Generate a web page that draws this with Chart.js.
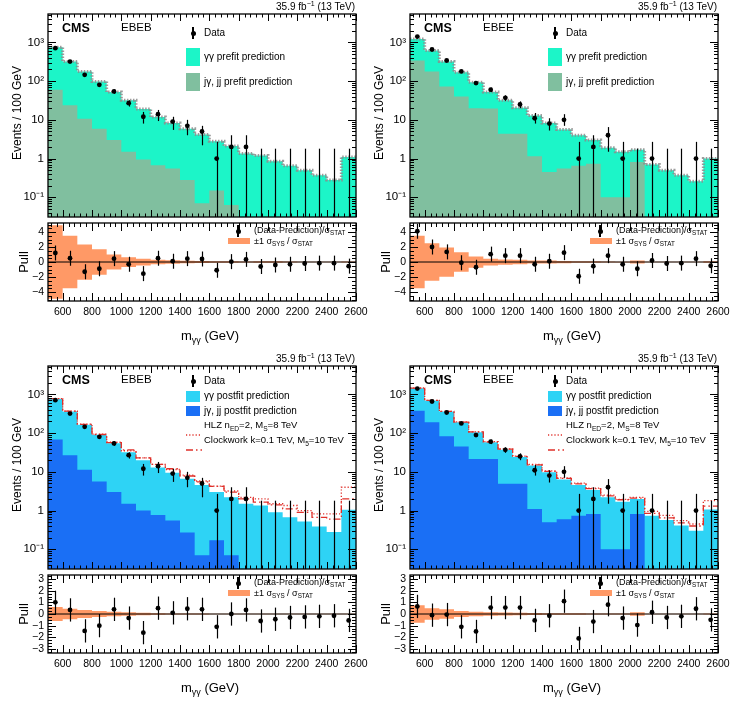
<!DOCTYPE html>
<html>
<head>
<meta charset="utf-8">
<title>Diphoton mass spectra, EBEB / EBEE</title>
<script src="https://cdn.jsdelivr.net/npm/chart.js@4.4.1/dist/chart.umd.min.js"></script>
<style>
  body { margin: 0; background: #fff; font-family: 'Liberation Sans', Arial, sans-serif; }
  #page { position: relative; width: 731px; height: 705px; overflow: hidden; }
  .panel { position: absolute; width: 370px; height: 352px; }
  .panel canvas { position: absolute; left: 0; }
  .t { position: absolute; white-space: nowrap; line-height: 1; color: #000; }
  .t sub, .t sup { font-size: 70%; line-height: 0; }
  .box { position: absolute; }
</style>
</head>
<body>
<div id="page"></div>
<script>
const FONT = "'Liberation Sans', Arial, sans-serif";

// binning (GeV)
const binEdges = [500, 600, 700, 800, 900, 1000, 1100, 1200, 1300, 1400, 1500, 1600, 1700, 1800, 1900, 2000, 2100, 2200, 2300, 2400, 2500, 2600];
const xLabels = [600, 800, 1000, 1200, 1400, 1600, 1800, 2000, 2200, 2400, 2600];
const yMainLabels = [0.1, 1, 10, 100, 1000];
const decadeLabel = { 0.1: '10\u207B\u00B9', 1: '1', 10: '10', 100: '10\u00B2', 1000: '10\u00B3' };

// observed events / 100 GeV and error bar ends
const dataEBEB   = [710, 320, 145, 80, 54, 27, 12, 14, 9, 7, 5, 1, 2, 2, 0, 0, 0, 0, 0, 0, 0];
const dataEBEBLo = [683, 302, 133, 71, 47, 22, 8, 9.3, 5.5, 4, 2.2, 0, 0, 0, 0, 0, 0, 0, 0, 0, 0];
const dataEBEBHi = [737, 338, 157, 89, 61, 32, 16, 18, 12, 10, 7, 2.7, 4, 4, 1.8, 1.8, 1.8, 1.8, 1.8, 1.8, 1.8];
const dataEBEE   = [1410, 655, 340, 178, 89, 60, 37, 25, 11, 8, 10, 1, 2, 4, 1, 0, 1, 0, 0, 1, 0];
const dataEBEELo = [1370, 630, 322, 165, 80, 52, 31, 20, 8, 5.3, 7, 0, 0, 1.5, 0, 0, 0, 0, 0, 0, 0];
const dataEBEEHi = [1450, 680, 358, 192, 99, 68, 43, 30, 15, 11, 14, 2.7, 4, 6.5, 2.7, 1.8, 2.7, 1.8, 1.8, 2.7, 1.8];

// prefit predictions (stack total and j-gamma/jj part)
const preTotEBEB = [750, 320, 178, 98, 52, 32, 19, 11.8, 8.3, 5.9, 4.2, 2.8, 2.1, 1.35, 1.2, 0.85, 0.65, 0.5, 0.37, 0.28, 1.1];
const preJetEBEB = [60, 23.7, 10.7, 5.9, 3.0, 1.5, 0.94, 0.67, 0.55, 0.28, 0.07, 0.15, 0.063, 0, 0, 0, 0, 0, 0, 0, 0];
const preTotEBEE = [1230, 617, 322, 170, 94, 52, 32, 20.6, 13, 8.3, 5.6, 4, 3, 1.9, 1.5, 1.7, 0.7, 0.5, 0.37, 0.26, 1.0];
const preJetEBEE = [340, 178, 73, 40, 20, 19.5, 4.4, 4.4, 1.15, 0.45, 0.55, 0.65, 0.74, 0.1, 0.1, 0.82, 0, 0, 0, 0, 0];

// postfit predictions and signal hypotheses
const postTotEBEB = [760, 360, 165, 90, 55, 32, 20, 13, 9.4, 6.6, 4.6, 3, 2.2, 1.5, 1.35, 0.9, 0.67, 0.52, 0.39, 0.28, 1.05];
const postJetEBEB = [68, 27, 11.4, 5.6, 3, 1.5, 1.0, 0.77, 0.55, 0.27, 0.07, 0.17, 0.07, 0, 0, 0, 0, 0, 0, 0, 0];
const hlzEBEB = [780, 370, 170, 94, 58, 35, 23, 15.5, 11.5, 8.2, 5.8, 4.3, 3.2, 2.2, 2.0, 1.5, 1.35, 1.0, 0.82, 0.82, 4.0];
const cwEBEB  = [775, 368, 168, 92, 57, 37, 23, 15.5, 12, 7.8, 5.5, 4.2, 3.0, 2.0, 1.65, 1.4, 1.1, 0.9, 0.67, 0.6, 2.0];
const postTotEBEE = [1440, 690, 360, 190, 105, 58, 37, 24, 14.5, 9.8, 6.3, 4.6, 3.4, 2.2, 1.7, 2.0, 0.74, 0.57, 0.41, 0.30, 1.06];
const postJetEBEE = [380, 190, 83, 45, 21.5, 21.5, 4.9, 4.9, 1.1, 0.5, 0.6, 0.74, 0.82, 0.1, 0.1, 0.82, 0, 0, 0, 0, 0];
const hlzEBEE = [1460, 700, 366, 194, 108, 60, 39, 25.5, 15.5, 10.6, 7.0, 5.1, 3.8, 2.5, 1.95, 2.2, 0.95, 0.75, 0.55, 0.45, 1.8];
const cwEBEE  = [1455, 698, 364, 193, 107, 59, 38.5, 25, 15.2, 10.3, 6.8, 4.9, 3.7, 2.4, 1.9, 2.1, 0.85, 0.65, 0.48, 0.4, 1.3];

// pulls and sys/stat bands
const pullPreEBEB = [1.2, 0.5, -1.3, -0.9, 0.45, -0.3, -1.55, 0.5, 0.1, 0.45, 0.4, -1.1, 0.05, 0.35, -0.6, -0.4, -0.3, -0.2, -0.15, -0.15, -0.55];
const sysPreEBEB  = [4.9, 3.5, 2.35, 1.7, 1.0, 0.65, 0.45, 0.3, 0.22, 0.18, 0.12, 0.1, 0.1, 0.06, 0.1, 0.1, 0.08, 0.03, 0.03, 0.03, 0.06];
const pullPreEBEE = [4.1, 2.0, 1.35, -0.1, -0.7, 1.05, 0.85, 0.85, -0.3, 0.1, 1.25, -1.9, -0.55, 0.85, -0.3, -0.9, 0.2, -0.2, -0.15, 0.45, -0.5];
const sysPreEBEE  = [3.5, 2.5, 1.95, 1.3, 0.75, 0.45, 0.35, 0.3, 0.2, 0.2, 0.15, 0.1, 0.1, 0.06, 0.05, 0.2, 0.02, 0.02, 0.02, 0.02, 0.1];
const pullPostEBEB = [1.0, 0.35, -1.45, -1.0, 0.4, -0.35, -1.6, 0.5, 0.1, 0.45, 0.4, -1.1, 0.0, 0.35, -0.6, -0.45, -0.3, -0.25, -0.2, -0.15, -0.55];
const sysPostEBEB  = [0.6, 0.45, 0.35, 0.25, 0.2, 0.15, 0.1, 0.07, 0.05, 0.05, 0.04, 0.03, 0.03, 0.02, 0.03, 0.03, 0.02, 0.02, 0.02, 0.02, 0.02];
const pullPostEBEE = [0.65, -0.1, -0.05, -1.1, -1.5, 0.55, 0.55, 0.55, -0.55, -0.15, 1.1, -2.1, -0.65, 0.8, -0.35, -0.95, 0.15, -0.3, -0.2, 0.45, -0.5];
const sysPostEBEE  = [0.75, 0.5, 0.4, 0.25, 0.2, 0.15, 0.12, 0.1, 0.08, 0.07, 0.06, 0.06, 0.05, 0.05, 0.04, 0.15, 0.02, 0.02, 0.02, 0.02, 0.05];
const pullErr = 1;

const COL = {
  preGG: '#1cf5c8', preJ: '#80bf9f',
  postGG: '#2ed3f5', postJ: '#1a6ff5',
  band: '#ff9966', red: '#e0302a',
};

const BELOW = 1e-4; // empty bins sit below the log axis
const centers = binEdges.slice(0, -1).map((e, i) => (e + binEdges[i + 1]) / 2);
const stepPts = (vals) =>
  binEdges.map((e, i) => ({ x: e, y: vals[Math.min(i, vals.length - 1)] }));
const logStep = (vals) => stepPts(vals.map((v) => Math.max(v, BELOW)));

// ROOT-style inward ticks on all four sides + frame
const frameWith = (o) => ({
  id: 'rootFrame',
  afterDraw(chart) {
    const { ctx, chartArea: a, scales: { x, y } } = chart;
    ctx.save();
    ctx.strokeStyle = '#000';
    ctx.lineWidth = 1;
    ctx.beginPath();
    const seg = (x1, y1, x2, y2) => { ctx.moveTo(x1, y1); ctx.lineTo(x2, y2); };
    const xt = (list, len) => list.forEach((v) => {
      const p = Math.round(x.getPixelForValue(v)) + 0.5;
      seg(p, a.bottom, p, a.bottom - len);
      seg(p, a.top, p, a.top + len);
    });
    const yt = (list, len) => list.forEach((v) => {
      const p = Math.round(y.getPixelForValue(v)) + 0.5;
      if (p < a.top || p > a.bottom) return;
      seg(a.left, p, a.left + len, p);
      seg(a.right, p, a.right - len, p);
    });
    xt(o.xMajor, o.xLen[0]); xt(o.xMinor, o.xLen[1]);
    yt(o.yMajor, o.yLen[0]); yt(o.yMinor, o.yLen[1]);
    ctx.stroke();
    ctx.lineWidth = 1.3;
    ctx.strokeRect(a.left, a.top, a.width, a.height);
    ctx.restore();
  },
});

const errBars = {
  id: 'errBars',
  afterDatasetsDraw(chart) {
    const { ctx, chartArea: a, scales: { x, y } } = chart;
    ctx.save();
    ctx.beginPath();
    ctx.rect(a.left, a.top, a.width, a.height);
    ctx.clip();
    ctx.strokeStyle = '#000';
    ctx.lineWidth = 1.2;
    chart.data.datasets.forEach((ds) => {
      if (!ds.errHi) return;
      ds.errHi.forEach((hi, i) => {
        const px = Math.round(x.getPixelForValue(ds.errX[i])) + 0.5;
        const lo = ds.errLo[i];
        const yTop = y.getPixelForValue(hi);
        const yBot = y.type === 'logarithmic' && lo <= 0 ? a.bottom : y.getPixelForValue(lo);
        ctx.beginPath();
        ctx.moveTo(px, yBot);
        ctx.lineTo(px, yTop);
        ctx.stroke();
      });
    });
    ctx.restore();
  },
};

// tick decoration positions
const xMinorT = [];
for (let v = 520; v < 2600; v += 40) if ((v - 600) % 200 !== 0) xMinorT.push(v);
const yLogMinor = [];
for (let k = -2; k <= 3; k++) for (let m = 2; m <= 9; m++) yLogMinor.push(m * Math.pow(10, k));
const linTicks = (lo, hi, step) => {
  const out = [];
  for (let v = lo; v <= hi + 1e-9; v += step) out.push(+v.toFixed(3));
  return out;
};

const page = document.getElementById('page');

function addText(parent, html, x, y, size, anchor, rotate, bold) {
  const d = document.createElement('div');
  d.className = 't';
  d.innerHTML = html;
  d.style.left = x + 'px';
  d.style.top = y + 'px';
  d.style.fontSize = size + 'px';
  if (bold) d.style.fontWeight = 'bold';
  const tx = anchor === 'right' ? '-100%' : anchor === 'center' ? '-50%' : '0';
  d.style.transform = `translate(${tx}, -50%)` + (rotate ? ' rotate(-90deg)' : '');
  parent.appendChild(d);
  return d;
}
function addBox(parent, x, y, w, h, color) {
  const d = document.createElement('div');
  d.className = 'box';
  Object.assign(d.style, { left: x + 'px', top: y + 'px', width: w + 'px', height: h + 'px', background: color });
  parent.appendChild(d);
}
function addMarker(parent, x, y) {
  addBox(parent, x - 0.6, y - 6, 1.2, 12, '#000');
  const c = document.createElement('div');
  c.className = 'box';
  Object.assign(c.style, { left: x - 2.5 + 'px', top: y - 2.5 + 'px', width: '5px', height: '5px', borderRadius: '50%', background: '#000' });
  parent.appendChild(c);
}
function addLineKey(parent, x, y, dash) {
  const d = document.createElement('div');
  d.className = 'box';
  d.style.left = x + 'px';
  d.style.top = y - 2 + 'px';
  d.innerHTML = `<svg width="16" height="4"><line x1="0" y1="2" x2="16" y2="2" stroke="${COL.red}" stroke-width="1.3" stroke-dasharray="${dash}"/></svg>`;
  parent.appendChild(d);
}

function buildPanel(cfg) {
  const el = document.createElement('div');
  el.className = 'panel';
  el.style.left = cfg.ox + 'px';
  el.style.top = cfg.oy + 'px';
  page.appendChild(el);

  const mainCv = document.createElement('canvas');
  mainCv.width = 370; mainCv.height = 222; mainCv.style.top = '0px';
  el.appendChild(mainCv);
  const pullCv = document.createElement('canvas');
  pullCv.width = 370; pullCv.height = 134; pullCv.style.top = '218px';
  el.appendChild(pullCv);

  const points = {
    data: centers.map((c, i) => ({ x: c, y: cfg.data[i] > 0 ? cfg.data[i] : null })),
    showLine: false, pointRadius: 2.4, pointBackgroundColor: '#000', pointBorderWidth: 0,
    errX: centers, errLo: cfg.lo, errHi: cfg.hi,
  };
  const hist = (vals, color) => ({
    data: logStep(vals), stepped: 'before', borderWidth: 0, pointRadius: 0,
    fill: 'start', backgroundColor: color, borderColor: color,
  });
  const curve = (vals, dash, color, width) => ({
    data: logStep(vals), stepped: 'before', borderWidth: width, pointRadius: 0,
    fill: false, borderColor: color, borderDash: dash,
  });

  const datasets = [points];
  if (cfg.post) {
    datasets.push(curve(cfg.cw, [7, 3, 1.5, 3], COL.red, 1.3));
    datasets.push(curve(cfg.hlz, [1.2, 2], COL.red, 1.3));
  } else {
    datasets.push(curve(cfg.tot, [1.5, 1.5], 'rgba(140,140,140,0.85)', 3));
  }
  datasets.push(hist(cfg.jet, cfg.post ? COL.postJ : COL.preJ));
  datasets.push(hist(cfg.tot, cfg.post ? COL.postGG : COL.preGG));

  new Chart(mainCv, {
    type: 'line',
    data: { datasets },
    plugins: [errBars, frameWith({
      xMajor: xLabels, xMinor: xMinorT, xLen: [7, 3.5],
      yMajor: yMainLabels, yMinor: yLogMinor, yLen: [8, 4],
    })],
    options: {
      responsive: false, animation: false, events: [], devicePixelRatio: 1,
      layout: { padding: { top: 14, right: 14, left: 0, bottom: 0 } },
      plugins: { legend: { display: false }, tooltip: { enabled: false } },
      scales: {
        x: {
          type: 'linear', min: 500, max: 2600,
          grid: { display: false, drawTicks: false }, border: { display: false },
          ticks: { display: false },
          afterFit: (s) => { s.height = 5; s.paddingLeft = 0; s.paddingRight = 0; },
        },
        y: {
          type: 'logarithmic', min: 0.031, max: 5400,
          grid: { display: false, drawTicks: false }, border: { display: false },
          ticks: {
            color: '#000', font: { size: 11.5, family: FONT }, padding: 4, autoSkip: false,
            callback: (v) => decadeLabel[v] ?? '',
          },
          afterBuildTicks: (s) => { s.ticks = yMainLabels.map((v) => ({ value: v })); },
          afterFit: (s) => { s.width = 48; s.paddingTop = 0; s.paddingBottom = 0; },
        },
      },
    },
  });

  new Chart(pullCv, {
    type: 'line',
    data: {
      datasets: [
        {
          data: centers.map((c, i) => ({ x: c, y: cfg.pull[i] })),
          showLine: false, pointRadius: 2.4, pointBackgroundColor: '#000', pointBorderWidth: 0,
          errX: centers,
          errLo: cfg.pull.map((p) => p - pullErr),
          errHi: cfg.pull.map((p) => p + pullErr),
        },
        {
          data: [{ x: 500, y: 0 }, { x: 2600, y: 0 }],
          borderColor: '#000', borderWidth: 1, pointRadius: 0, fill: false,
        },
        {
          data: stepPts(cfg.sys), stepped: 'before', borderWidth: 0, pointRadius: 0,
          fill: '+1', backgroundColor: COL.band, borderColor: COL.band,
        },
        {
          data: stepPts(cfg.sys.map((s) => -s)), stepped: 'before', borderWidth: 0, pointRadius: 0,
          fill: false, borderColor: COL.band,
        },
      ],
    },
    plugins: [errBars, frameWith({
      xMajor: xLabels, xMinor: xMinorT, xLen: [8, 4],
      yMajor: cfg.pullTicks, yMinor: cfg.pullMinor, yLen: [8, 4],
    })],
    options: {
      responsive: false, animation: false, events: [], devicePixelRatio: 1,
      layout: { padding: { top: 5, right: 14, left: 0, bottom: 0 } },
      plugins: { legend: { display: false }, tooltip: { enabled: false } },
      scales: {
        x: {
          type: 'linear', min: 500, max: 2600,
          grid: { display: false, drawTicks: false }, border: { display: false },
          ticks: {
            color: '#000', font: { size: 10.5, family: FONT }, padding: 5, maxRotation: 0, autoSkip: false,
            callback: (v) => String(v),
          },
          afterBuildTicks: (s) => { s.ticks = xLabels.map((v) => ({ value: v })); },
          afterFit: (s) => { s.height = 51; s.paddingLeft = 0; s.paddingRight = 0; },
        },
        y: {
          type: 'linear', min: -cfg.pullRange, max: cfg.pullRange,
          grid: { display: false, drawTicks: false }, border: { display: false },
          ticks: {
            color: '#000', font: { size: 10.5, family: FONT }, padding: 4, autoSkip: false,
            callback: (v) => String(v).replace('-', '\u2212'),
          },
          afterBuildTicks: (s) => { s.ticks = cfg.pullTicks.map((v) => ({ value: v })); },
          afterFit: (s) => { s.width = 48; s.paddingTop = 0; s.paddingBottom = 0; },
        },
      },
    },
  });

  // annotations
  addText(el, '35.9 fb<sup>\u22121</sup> (13 TeV)', 355, 7, 10, 'right');
  addText(el, 'CMS', 62, 28, 12.5, 'left', false, true);
  addText(el, cfg.region, 121, 28, 11.5, 'left');
  addText(el, 'Events / 100 GeV', 17, 113, 12, 'center', true);
  if (cfg.post) {
    addMarker(el, 193, 29); addText(el, 'Data', 204, 29, 10);
    addBox(el, 186, 39, 14, 11, COL.postGG); addText(el, '\u03B3\u03B3 postfit prediction', 204, 44, 10);
    addBox(el, 186, 54, 14, 10, COL.postJ); addText(el, 'j\u03B3, jj postfit prediction', 204, 59, 10);
    addLineKey(el, 186, 73, '1.2,2'); addText(el, 'HLZ n<sub>ED</sub>=2, M<sub>S</sub>=8 TeV', 204, 73, 9.5);
    addLineKey(el, 186, 88, '7,3,1.5,3'); addText(el, 'Clockwork k=0.1 TeV, M<sub>5</sub>=10 TeV', 204, 88, 9.5);
  } else {
    addMarker(el, 193, 33); addText(el, 'Data', 204, 33, 10);
    addBox(el, 186, 48, 14, 18, COL.preGG); addText(el, '\u03B3\u03B3 prefit prediction', 204, 57, 10);
    addBox(el, 186, 73, 14, 18, COL.preJ); addText(el, 'j\u03B3, jj prefit prediction', 204, 82, 10);
  }
  addText(el, 'Pull', 23, 262, 13, 'center', true);
  addMarker(el, 238, 231);
  addText(el, '(Data-Prediction)/\u03C3<sub>STAT</sub>', 254, 230, 9);
  addBox(el, 228, 238, 22, 6, COL.band);
  addText(el, '\u00B11 \u03C3<sub>SYS</sub> / \u03C3<sub>STAT</sub>', 254, 241, 9);
  addText(el, 'm<sub>\u03B3\u03B3</sub> (GeV)', 210, 335, 13, 'center');
}

const preTicks = [-4, -2, 0, 2, 4];
const postTicks = [-3, -2, -1, 0, 1, 2, 3];

buildPanel({ ox: 0, oy: 0, region: 'EBEB', post: false,
  data: dataEBEB, lo: dataEBEBLo, hi: dataEBEBHi, tot: preTotEBEB, jet: preJetEBEB,
  pull: pullPreEBEB, sys: sysPreEBEB, pullRange: 5.2, pullTicks: preTicks, pullMinor: linTicks(-5, 5, 0.5) });
buildPanel({ ox: 362, oy: 0, region: 'EBEE', post: false,
  data: dataEBEE, lo: dataEBEELo, hi: dataEBEEHi, tot: preTotEBEE, jet: preJetEBEE,
  pull: pullPreEBEE, sys: sysPreEBEE, pullRange: 5.2, pullTicks: preTicks, pullMinor: linTicks(-5, 5, 0.5) });
buildPanel({ ox: 0, oy: 352, region: 'EBEB', post: true,
  data: dataEBEB, lo: dataEBEBLo, hi: dataEBEBHi, tot: postTotEBEB, jet: postJetEBEB, hlz: hlzEBEB, cw: cwEBEB,
  pull: pullPostEBEB, sys: sysPostEBEB, pullRange: 3.35, pullTicks: postTicks, pullMinor: linTicks(-3.25, 3.25, 0.25) });
buildPanel({ ox: 362, oy: 352, region: 'EBEE', post: true,
  data: dataEBEE, lo: dataEBEELo, hi: dataEBEEHi, tot: postTotEBEE, jet: postJetEBEE, hlz: hlzEBEE, cw: cwEBEE,
  pull: pullPostEBEE, sys: sysPostEBEE, pullRange: 3.35, pullTicks: postTicks, pullMinor: linTicks(-3.25, 3.25, 0.25) });
</script>
</body>
</html>
